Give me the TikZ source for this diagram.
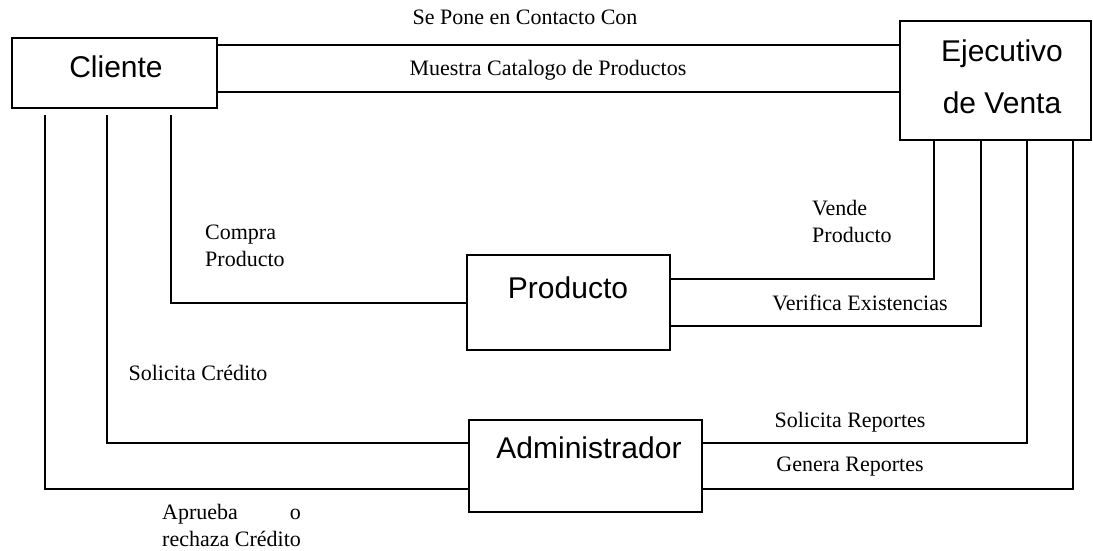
\documentclass[tikz,border=0pt]{standalone}
\usepackage{fontspec}
\setmainfont{Liberation Serif}
\newfontfamily\cajafont{Liberation Sans}
\usetikzlibrary{positioning}

\begin{document}
\begin{tikzpicture}[x=1pt, y=-1pt,
    entidad/.style={draw, line width=2pt, inner sep=0pt, outer sep=0pt},
    titulo/.style={font=\cajafont\fontsize{30}{52}\selectfont, align=center, inner sep=0pt},
    rotulo/.style={font=\fontsize{22}{27}\selectfont, inner sep=0pt},
    enlace/.style={line width=2pt}]

    % Marco de la figura
    \useasboundingbox (0,0) rectangle (1093,550);

    % Las cuatro cajas
    \node[entidad, minimum width=205pt, minimum height=70pt]  (cliente)       at (114.5,73)  {};
    \node[entidad, minimum width=191pt, minimum height=119pt] (ejecutivo)     at (995.5,80.5) {};
    \node[entidad, minimum width=203pt, minimum height=95pt]  (producto)      at (568.5,302.5) {};
    \node[entidad, minimum width=233pt, minimum height=92pt]  (administrador) at (585.5,466) {};

    \node[titulo] (cliente-txt)       at (116,67)  {Cliente};
    \node[titulo] (ejecutivo-txt)     at (1002,77) {Ejecutivo\\de Venta};
    \node[titulo] (producto-txt)      at (568,288) {Producto};
    \node[titulo] (administrador-txt) at (589,448) {Administrador};

    % Puntos de salida bajo y al lado del cliente
    \coordinate (c1) at ([yshift=-7pt]cliente.north east);
    \coordinate (c2) at ([yshift=16pt]cliente.south east);
    \coordinate (c3) at ([xshift=33pt,yshift=-7pt]cliente.south west);
    \coordinate (c4) at ([xshift=95pt,yshift=-7pt]cliente.south west);
    \coordinate (c5) at ([xshift=159pt,yshift=-7pt]cliente.south west);

    % Cliente con ejecutivo
    \draw[enlace] (c1) -- (c1 -| ejecutivo.west);
    \draw[enlace] (c2) -- (c2 -| ejecutivo.west);

    % Cliente con producto y administrador
    \draw[enlace] (c5) |- (producto.west);
    \draw[enlace] (c4) |- ([yshift=-23pt]administrador.north west);
    \draw[enlace] (c3) |- ([yshift=23pt]administrador.south west);

    % Ejecutivo con producto y administrador
    \draw[enlace] ([xshift=34pt]ejecutivo.south west)  |- ([yshift=-24pt]producto.north east);
    \draw[enlace] ([xshift=81pt]ejecutivo.south west)  |- ([yshift=24pt]producto.south east);
    \draw[enlace] ([xshift=127pt]ejecutivo.south west) |- ([yshift=-23pt]administrador.north east);
    \draw[enlace] ([xshift=173pt]ejecutivo.south west) |- ([yshift=23pt]administrador.south east);

    % Rotulos de los enlaces
    \node[rotulo] (contacto) at (525,17) {Se Pone en Contacto Con};
    \node[rotulo] (catalogo) at (548,70) {Muestra Catalogo de Productos};
    \node[rotulo, align=left, anchor=west] (compra) at (205,246) {Compra\\Producto};
    \node[rotulo, align=left, anchor=west] (vende)  at (812,221) {Vende\\Producto};
    \node[rotulo] (verifica) at (860,303) {Verifica Existencias};
    \node[rotulo] (credito)  at (198,373) {Solicita Crédito};
    \node[rotulo] (solicita) at (850,422) {Solicita Reportes};
    \node[rotulo] (genera)   at (850,467) {Genera Reportes};
    \node[rotulo, anchor=west] (aprueba) at (162,528)
        {\begin{tabular}{@{}l@{}}Aprueba\hfill o\\rechaza Crédito\end{tabular}};
\end{tikzpicture}
\end{document}
